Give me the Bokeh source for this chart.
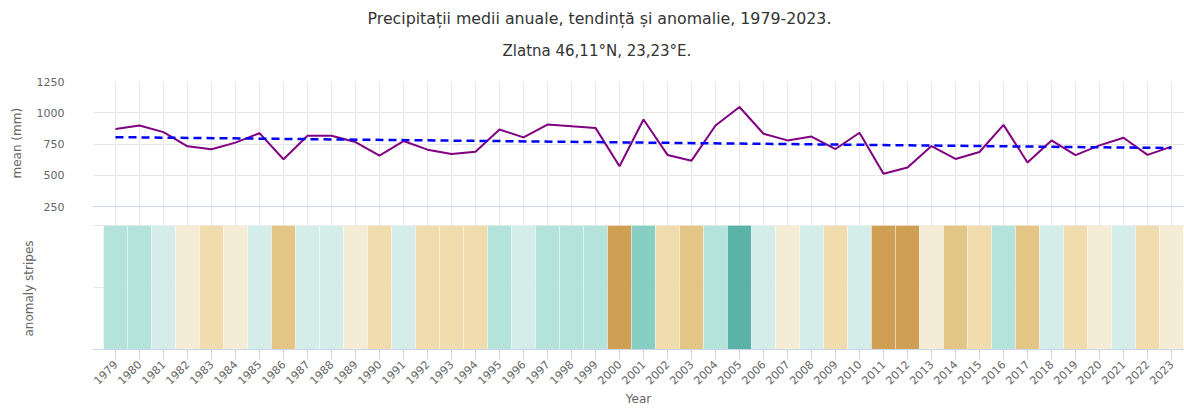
import math
from bokeh.plotting import figure
from bokeh.models import Range1d, FixedTicker, Grid, Span, ColumnDataSource, Title
from bokeh.embed import file_html
from bokeh.resources import INLINE

# ---- data ----
years = list(range(1979, 2024))
precip = [871, 898, 845, 732, 708, 761, 837, 628, 816, 816,
          766, 657, 774, 705, 671, 689, 866, 803, 906, 893,
          879, 573, 946, 663, 617, 898, 1046, 832, 779, 810,
          710, 840, 512, 562, 734, 631, 686, 903, 602, 779,
          661, 739, 800, 663, 729]
trend_years = [1979, 2023]
trend_values = [805, 718]
# anomaly class per year (0 = driest ... 7 = wettest)
anomaly_class = [5, 5, 4, 3, 2, 3, 4, 1, 4, 4,
                 3, 2, 4, 2, 2, 2, 5, 4, 5, 5,
                 5, 0, 6, 2, 1, 5, 7, 4, 3, 4,
                 2, 4, 0, 0, 3, 1, 2, 5, 1, 4,
                 2, 3, 4, 2, 3]
palette = ["#cf9f54", "#e3c585", "#f0dcac", "#f5ecd5",
           "#d5ede9", "#b4e3dc", "#88cfc3", "#5bb2a8"]
y_ticks = [250, 500, 750, 1000, 1250]
x_tick_labels = {y: str(y) for y in years}

title_text = "Precipitații medii anuale, tendință și anomalie, 1979-2023."
subtitle_text = "Zlatna 46,11°N, 23,23°E."

FONT = "DejaVu Sans"
GRID = "#e6e6e6"
AXIS = "#ccd6eb"
LABEL = "#666666"

p = figure(width=1184, height=408, output_backend="svg", toolbar_location=None,
           title=None,
           x_range=Range1d(1978.0417, 2023.5417),
           y_range=Range1d(-892.9, 1250))
p.extra_y_ranges = {"stripes": Range1d(0, 2.16)}
p.min_border_left = 92
p.min_border_right = 0
p.min_border_top = 79
p.min_border_bottom = 59
p.outline_line_color = None
p.background_fill_color = "white"
p.border_fill_color = "white"

# y axis
p.yaxis.ticker = FixedTicker(ticks=y_ticks)
p.yaxis.axis_line_color = None
p.yaxis.major_tick_line_color = None
p.yaxis.minor_tick_line_color = None
p.yaxis.major_tick_out = 0
p.yaxis.major_tick_in = 0
p.yaxis.major_label_standoff = 28
p.yaxis.major_label_text_font = FONT
p.yaxis.major_label_text_font_size = "11px"
p.yaxis.major_label_text_color = LABEL

# x axis
p.xaxis.ticker = FixedTicker(ticks=years)
p.xaxis.major_label_overrides = x_tick_labels
p.xaxis.major_label_orientation = math.pi / 4
p.xaxis.major_tick_out = 10
p.xaxis.major_tick_in = 0
p.xaxis.major_tick_line_color = AXIS
p.xaxis.minor_tick_line_color = None
p.xaxis.axis_line_color = AXIS
p.xaxis.major_label_standoff = 3
p.xaxis.major_label_text_font = FONT
p.xaxis.major_label_text_font_size = "11px"
p.xaxis.major_label_text_color = LABEL
p.xaxis.axis_label = "Year"
p.xaxis.axis_label_text_font = FONT
p.xaxis.axis_label_text_font_size = "12px"
p.xaxis.axis_label_text_font_style = "normal"
p.xaxis.axis_label_text_color = LABEL
p.xaxis.axis_label_standoff = 1

# grids
p.xgrid.grid_line_color = GRID
p.ygrid.grid_line_color = GRID
sgrid = Grid(dimension=1, ticker=FixedTicker(ticks=[0.5, 1.0]),
             y_range_name="stripes", grid_line_color=GRID)
p.add_layout(sgrid)

# stripes
src = ColumnDataSource(dict(year=years,
                            color=[palette[c] for c in anomaly_class]))
p.vbar(x="year", width=1, bottom=0, top=1, source=src,
       fill_color="color", line_color="white", line_alpha=0.35, line_width=1,
       y_range_name="stripes")

# top panel baseline
p.add_layout(Span(location=y_ticks[0], dimension="width", line_color=AXIS, line_width=1))

# series
p.line(years, precip, line_color="#800080", line_width=2)
p.line(trend_years, trend_values, line_color="#0000ff", line_width=2.5, line_dash="8 5")

# titles
def ttl(text, size, color, align, offset, standoff, side, lh=1.0):
    t = Title(text=text, align=align, offset=offset, standoff=standoff,
              text_font=FONT, text_font_size=size, text_color=color,
              text_font_style="normal", text_line_height=lh)
    p.add_layout(t, side)

ttl(" ", "1px", "#ffffff", "left", 0, 13, "above")          # spacer row
ttl(subtitle_text, "15px", "#333333", "left", 410, 12, "above")
ttl(title_text, "15.8px", "#333333", "left", 275, 12, "above")
ttl("anomaly stripes", "12px", LABEL, "left", 13, -4, "left", 0.8)
ttl("mean (mm)", "12px", LABEL, "left", 171, -4, "left", 0.8)

open("out.html", "w").write(file_html(p, INLINE))
